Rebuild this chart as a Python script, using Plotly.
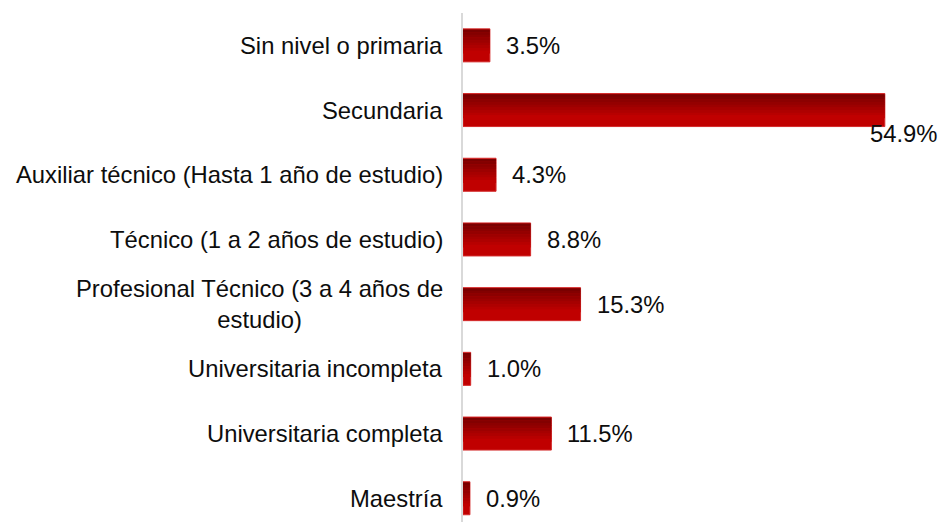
import plotly.graph_objects as go

# ── data ─────────────────────────────────────
categories = [
    "Sin nivel o primaria",
    "Secundaria",
    "Auxiliar técnico (Hasta 1 año de estudio)",
    "Técnico (1 a 2 años de estudio)",
    "Profesional Técnico (3 a 4 años de<br>estudio)",
    "Universitaria incompleta",
    "Universitaria completa",
    "Maestría",
]
values = [3.5, 54.9, 4.3, 8.8, 15.3, 1.0, 11.5, 0.9]
value_labels = ["3.5%", "54.9%", "4.3%", "8.8%", "15.3%", "1.0%", "11.5%", "0.9%"]

# ── style ────────────────────────────────────
FONT = "Liberation Sans, Arial, sans-serif"
TEXT = "#0d0d0d"
FSIZE = 23.8
BAR_W = 0.51
DARK = (122, 0, 0)
RED = (192, 0, 0)
N_SLICES = 9
GRAD_PART = 0.72   # share of the bar height covered by the gradient

fig = go.Figure()

# base bar (full red, thin light rim)
fig.add_trace(go.Bar(
    y=categories, x=values, orientation="h",
    width=BAR_W,
    marker=dict(color="rgb(%d,%d,%d)" % RED, line=dict(color="#d42a2a", width=1)),
    hoverinfo="skip", showlegend=False,
))

# gradient slices from the top edge down (dark → red)
slice_h = BAR_W * GRAD_PART / N_SLICES
for k in range(N_SLICES):
    t = k / (N_SLICES - 1)
    col = tuple(round(DARK[c] + (RED[c] - DARK[c]) * t) for c in range(3))
    fig.add_trace(go.Bar(
        y=categories, x=values, orientation="h",
        width=slice_h + 0.004,
        offset=-BAR_W / 2 + k * slice_h + 0.01,
        marker=dict(color="rgb(%d,%d,%d)" % col, line=dict(width=0)),
        hoverinfo="skip", showlegend=False,
    ))

# category labels (centered multi-line, right-aligned to axis)
for cat in categories:
    fig.add_annotation(
        x=0, xref="paper", y=cat, yref="y",
        text=cat, showarrow=False,
        xanchor="right", align="center", xshift=-18,
        font=dict(family=FONT, size=FSIZE, color=TEXT),
    )

# value labels (the longest one sits under the bar end, pulled in from the edge)
for cat, v, lab in zip(categories, values, value_labels):
    big = v == max(values)
    fig.add_annotation(
        x=v, y=cat, text=lab, showarrow=False,
        xanchor="left",
        xshift=-17 if big else 14,
        yshift=-23 if big else 0,
        font=dict(family=FONT, size=FSIZE, color=TEXT),
    )

# page body adds an 8px margin, so the figure is 8px smaller
fig.update_layout(
    width=938, height=514,
    margin=dict(l=455, r=22, t=5, b=0),
    paper_bgcolor="white", plot_bgcolor="white",
    barmode="overlay",
    font=dict(family=FONT, size=FSIZE, color=TEXT),
    xaxis=dict(range=[0, 60], visible=False, fixedrange=True),
    yaxis=dict(
        type="category",
        categoryorder="array", categoryarray=categories,
        range=[7.367, -0.5],
        showticklabels=False, showgrid=False, ticks="",
        showline=True, linecolor="#d9d9d9", linewidth=2,
        zeroline=False,
    ),
)

fig.write_html("out.html")
